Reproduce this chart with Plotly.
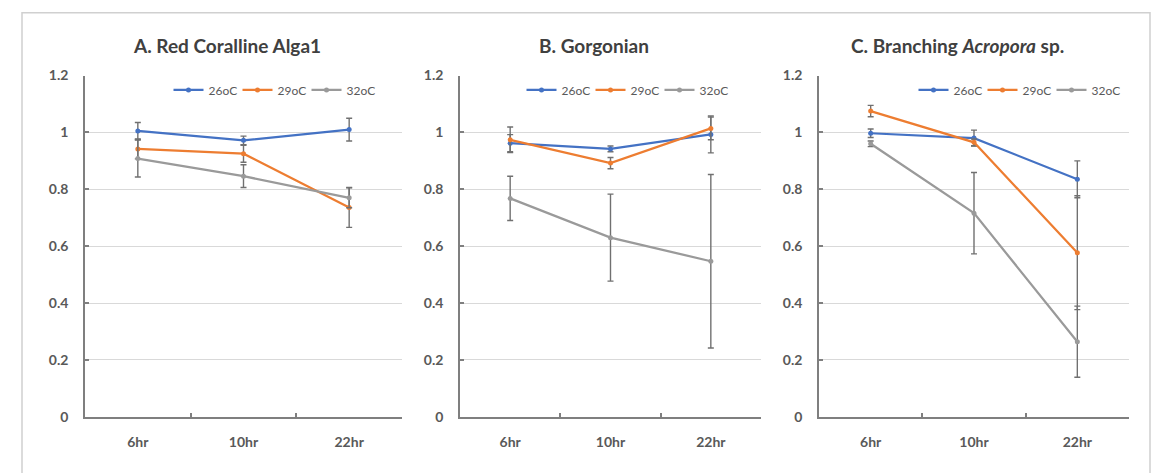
import plotly.graph_objects as go

# Sampling times (x categories) and temperature treatments
times = ["6hr", "10hr", "22hr"]
temps = ["26oC", "29oC", "32oC"]
colors = ["#4472C4", "#ED7D31", "#9A9A9A"]

# A. Red Coralline Alga1 — mean and error per treatment
alga_26 = [1.005, 0.972, 1.010]
alga_29 = [0.942, 0.925, 0.736]
alga_32 = [0.908, 0.846, 0.770]
alga_26_err = [0.030, 0.015, 0.040]
alga_29_err = [0.035, 0.030, 0.070]
alga_32_err = [0.065, 0.040, 0.035]

# B. Gorgonian
gorg_26 = [0.962, 0.942, 0.993]
gorg_29 = [0.974, 0.892, 1.014]
gorg_32 = [0.768, 0.630, 0.547]
gorg_26_err = [0.030, 0.010, 0.065]
gorg_29_err = [0.045, 0.020, 0.040]
gorg_32_err = [0.078, 0.153, 0.305]

# C. Branching Acropora sp.
acro_26 = [0.997, 0.980, 0.835]
acro_29 = [1.075, 0.965, 0.577]
acro_32 = [0.960, 0.716, 0.264]
acro_26_err = [0.015, 0.028, 0.065]
acro_29_err = [0.020, 0.012, 0.200]
acro_32_err = [0.010, 0.143, 0.125]

panel_titles = ["A. Red Coralline Alga1", "B. Gorgonian",
                "C. Branching <i>Acropora</i> sp."]
panels = [
    ([alga_26, alga_29, alga_32], [alga_26_err, alga_29_err, alga_32_err]),
    ([gorg_26, gorg_29, gorg_32], [gorg_26_err, gorg_29_err, gorg_32_err]),
    ([acro_26, acro_29, acro_32], [acro_26_err, acro_29_err, acro_32_err]),
]
y_ticks = [0, 0.2, 0.4, 0.6, 0.8, 1.0, 1.2]
y_ticklabels = ["0", "0.2", "0.4", "0.6", "0.8", "1", "1.2"]

W, H = 1161, 473
FONT = "Lato"
TEXT = "#595959"

x_domains = [(85, 402), (460, 761), (819, 1129)]
y_domain = [1 - 423 / H, 1 - 69 / H]
title_x = [227, 594, 957]
legend_x = [272, 625, 1017]

fig = go.Figure()
layout = dict(
    width=W, height=H,
    margin=dict(l=0, r=0, t=0, b=0),
    paper_bgcolor="white", plot_bgcolor="white",
    font=dict(family=FONT, color=TEXT),
    showlegend=True,
)

for p, ((series, errs), title) in enumerate(zip(panels, panel_titles)):
    suffix = "" if p == 0 else str(p + 1)
    xa, ya = "x" + suffix, "y" + suffix
    leg = "legend" + suffix
    for name, vals, err, col in zip(temps, series, errs, colors):
        fig.add_trace(go.Scatter(
            x=times, y=vals, name=name, mode="lines+markers",
            xaxis=xa, yaxis=ya, legend=leg,
            line=dict(color=col, width=2.25),
            marker=dict(color=col, size=5),
            error_y=dict(type="data", array=err, visible=True,
                         color="#707070", thickness=1.4, width=3),
        ))
    x0, x1 = x_domains[p]
    layout["xaxis" + suffix] = dict(
        domain=[x0 / W, x1 / W], anchor=ya, type="category",
        range=[-0.5, 2.5], tickson="boundaries", ticks="inside",
        ticklen=4, tickcolor="#7f7f7f", tickwidth=1.5,
        showline=True, linecolor="#7f7f7f", linewidth=1.5,
        showgrid=False, zeroline=False, ticklabelstandoff=12,
        tickfont=dict(family=FONT, size=14, color=TEXT, weight="bold"),
        fixedrange=True,
    )
    layout["yaxis" + suffix] = dict(
        domain=y_domain, anchor=xa, range=[0, 1.2],
        tickvals=y_ticks, ticktext=y_ticklabels,
        ticks="inside", ticklen=4, tickcolor="#7f7f7f", tickwidth=1.5,
        showline=True, linecolor="#7f7f7f", linewidth=1.5,
        showgrid=True, gridcolor="#d9d9d9", gridwidth=1,
        zeroline=False, ticklabelstandoff=12,
        tickfont=dict(family=FONT, size=14, color=TEXT, weight="bold"),
        fixedrange=True,
    )
    layout[leg] = dict(
        orientation="h", x=legend_x[p] / W, y=1 - 84 / H,
        xanchor="center", yanchor="middle",
        bgcolor="rgba(0,0,0,0)", itemwidth=30, entrywidth=24,
        font=dict(family=FONT, size=12, color=TEXT),
        tracegroupgap=0,
    )
    fig.add_annotation(
        text=title, x=title_x[p] / W, y=1 - 38 / H,
        xref="paper", yref="paper", showarrow=False,
        xanchor="center", yanchor="middle",
        font=dict(family=FONT, size=19, color="#404040", weight="bold"),
    )

# Light frame around the whole figure
fig.add_shape(type="rect", xref="paper", yref="paper",
              x0=22 / W, x1=1150 / W, y0=-0.05, y1=1 - 4 / H,
              line=dict(color="#d0d0d0", width=1.5), layer="below")

fig.update_layout(**layout)
fig.write_html(
    "out.html",
    post_script="document.body.style.margin='0';document.body.style.overflow='hidden';",
)
